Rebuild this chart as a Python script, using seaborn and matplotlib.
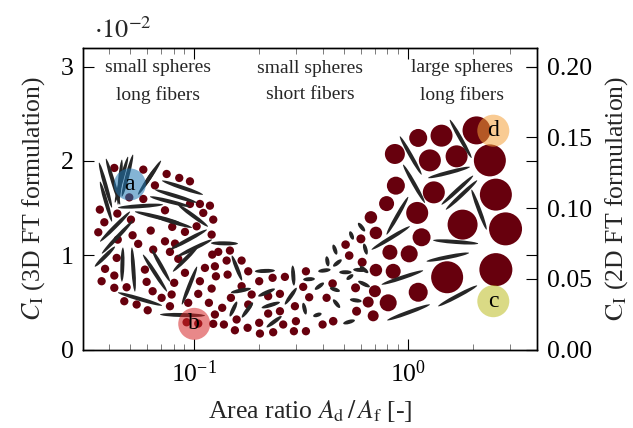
import numpy as np
import pandas as pd
import matplotlib
matplotlib.use("Agg")
import matplotlib.pyplot as plt
from matplotlib.collections import EllipseCollection
from matplotlib.ticker import FuncFormatter, FixedLocator, LogLocator, NullFormatter
import seaborn as sns

# ---- spheres: area ratio A_d/A_f, C_I (3D FT, in units of 1e-2), drawn diameter (px)
sphere_ratio = [
    0.0423, 0.0578, 0.0743, 0.0851, 0.0955, 0.0655, 0.0497, 0.0578, 0.0955, 0.1063,
    0.1184, 0.0362, 0.0437, 0.0730, 0.1102, 0.1227, 0.0506, 0.0380, 0.0789, 0.1026,
    0.0356, 0.0626, 0.0905, 0.1206, 0.0515, 0.0439, 0.0730, 0.0813, 0.0547, 0.0770,
    0.0643, 0.0434, 0.0842, 0.1214, 0.1295, 0.1468, 0.1665, 0.0383, 0.0588, 0.0423,
    0.0369, 0.0599, 0.0483, 0.0639, 0.0806, 0.0905, 0.1063, 0.1122, 0.1249, 0.1417,
    0.1432, 0.1263, 0.1206, 0.1044, 0.0784, 0.0704, 0.0423, 0.0471, 0.0538, 0.0606,
    0.0770, 0.0937, 0.1171, 0.1351, 0.1484, 0.1665, 0.1788, 0.1855, 0.1788, 0.1249,
    0.1227, 0.1376, 0.1578, 0.1549, 0.1776, 0.0921, 0.1044,
    0.2012, 0.2324, 0.2653, 0.3327, 0.2515, 0.3231, 0.3446, 0.4156, 0.4433, 0.5677,
    0.6095, 0.5099, 0.5301, 0.6012, 0.6695, 0.7066, 0.7066, 0.6990, 0.6503, 0.6862,
    0.5739, 0.4462, 0.3981, 0.2955, 0.2515, 0.2987, 0.2605, 0.2216, 0.2012, 0.2339,
    0.2028, 0.3327, 0.2923, 0.2216,
    1.114, 1.432, 2.087, 0.8667, 1.263, 1.684, 2.409, 0.8760, 1.318, 2.570,
    0.7927, 1.102, 1.796, 2.852, 1.155, 0.8215, 1.011, 0.8510, 1.521, 2.570,
    0.8065, 1.114,
]
sphere_ci = [
    1.925, 1.907, 1.861, 1.819, 1.783, 1.740, 1.613, 1.596, 1.543, 1.543,
    1.525, 1.483, 1.441, 1.476, 1.448, 1.377, 1.377, 1.349, 1.300, 1.306,
    1.243, 1.261, 1.247, 1.218, 1.211, 1.165, 1.147, 1.123, 1.120, 1.035,
    1.059, 0.971, 0.961, 1.006, 1.035, 1.049, 0.943, 0.855, 0.847, 0.784,
    0.724, 0.717, 0.660, 0.618, 0.707, 0.813, 0.724, 0.865, 0.882, 0.943,
    0.794, 0.776, 0.646, 0.590, 0.583, 0.548, 0.654, 0.512, 0.477, 0.416,
    0.459, 0.495, 0.495, 0.442, 0.548, 0.671, 0.829, 0.583, 0.477, 0.371,
    0.272, 0.265, 0.318, 0.204, 0.230, 0.289, 0.275,
    0.724, 0.760, 0.770, 0.829, 0.590, 0.664, 0.554, 0.548, 0.699, 0.654,
    0.925, 1.112, 0.996, 1.173, 1.401, 1.236, 0.842, 0.618, 0.503, 0.357,
    0.406, 0.300, 0.265, 0.459, 0.406, 0.300, 0.265, 0.381, 0.283, 0.183,
    0.169, 0.194, 0.194, 0.565,
    2.243, 2.267, 2.323, 2.073, 2.005, 2.048, 2.005, 1.737, 1.666, 1.642,
    1.547, 1.448, 1.324, 1.279, 1.190, 1.031, 1.014, 0.829, 0.766, 0.847,
    0.495, 0.607,
]
sphere_diam = (
    [8.3] * 77
    + [8.3, 8.3, 8.3, 8.3, 8.3, 8.3, 8.3, 8.3, 8.6, 9,
       9, 8.6, 8.6, 9, 12.5, 12.5, 12.5, 12, 11, 11,
       9, 8.6, 8.3, 8.3, 8.3, 8.3, 8.3, 8.3, 8.3, 8.3,
       8.3, 8.3, 8.3, 8.3]
    + [18, 22, 28, 20, 22, 22, 32, 18, 22, 32,
       15, 22, 30, 33, 18, 15, 17, 15, 32, 33,
       17, 19]
)

# ---- fibers: end points (area ratio, C_I in units of 1e-2)
fiber_x0 = [
    0.0359, 0.0387, 0.0363, 0.0459, 0.0490, 0.0517, 0.0699, 0.0662, 0.0707, 0.0655,
    0.0621, 0.0440, 0.0528, 0.0634, 0.0839, 0.0363, 0.0370, 0.0343, 0.0459, 0.0528,
    0.0576, 0.0634, 0.0440, 0.0692, 0.0876, 0.0795, 0.0770, 0.0830, 0.1197, 0.1500,
    0.1484, 0.1468, 0.1670,
    0.1921, 0.2883, 0.2653, 0.1990, 0.2065, 0.2179, 0.3230, 0.3230, 0.3664, 0.3796,
    0.4156, 0.4461, 0.4461, 0.4306, 0.4461, 0.4760, 0.5155, 0.5341, 0.5839, 0.6208,
    0.5533, 0.5839, 0.4969, 0.3597, 0.5341, 0.5948,
    0.9146, 0.9475, 1.566, 1.240, 1.432, 1.500, 1.978, 0.7926, 0.6744, 1.308,
    1.219, 0.7512, 1.381, 0.7978,
]
fiber_y0 = [
    1.981, 2.023, 1.780, 2.013, 2.044, 2.066, 2.002, 1.928, 1.790, 1.695,
    1.621, 1.504, 1.462, 1.419, 1.536, 1.144, 1.017, 0.879, 0.720, 0.614,
    1.006, 1.059, 0.604, 0.371, 0.477, 0.826, 1.059, 0.985, 1.128, 0.996,
    0.604, 0.350, 0.339,
    0.829, 0.890, 0.477, 0.565, 0.442, 0.236, 0.495, 0.742, 0.636, 0.829,
    0.988, 1.112, 0.882, 0.654, 0.530, 0.819, 0.742, 1.253, 1.342, 1.123,
    0.847, 0.724, 0.275, 0.353, 0.530, 0.882,
    2.260, 1.960, 2.436, 1.819, 1.536, 1.483, 1.695, 1.218, 1.059, 1.158,
    0.935, 0.689, 0.459, 0.310,
]
fiber_x1 = [
    0.0412, 0.0450, 0.0412, 0.0440, 0.0426, 0.0459, 0.0546, 0.0576, 0.1098, 0.1030,
    0.0955, 0.0714, 0.0858, 0.0976, 0.1159, 0.0501, 0.0517, 0.0426, 0.0464, 0.0511,
    0.0746, 0.0770, 0.0707, 0.1122, 0.1030, 0.1041, 0.1146, 0.1210, 0.1600, 0.1670,
    0.1841, 0.1583, 0.1881,
    0.2383, 0.2924, 0.3010, 0.2383, 0.2515, 0.2561, 0.3325, 0.3664, 0.4037, 0.4339,
    0.4228, 0.4629, 0.4885, 0.4796, 0.4796, 0.5440, 0.5533, 0.5533, 0.6276, 0.6412,
    0.6392, 0.6622, 0.5636, 0.3938, 0.6058, 0.6502,
    1.155, 1.197, 1.978, 1.942, 2.012, 2.101, 2.325, 1.000, 1.018, 2.124,
    1.924, 1.175, 2.101, 1.263,
]
fiber_y1 = [
    1.504, 1.536, 1.356, 1.536, 1.557, 1.621, 1.642, 1.716, 1.642, 1.557,
    1.515, 1.536, 1.345, 1.292, 1.303, 1.462, 1.367, 1.091, 1.081, 1.081,
    0.614, 0.720, 0.466, 0.360, 0.879, 1.091, 1.271, 1.165, 1.123, 0.731,
    0.646, 0.508, 0.498,
    0.837, 0.678, 0.654, 0.643, 0.501, 0.353, 0.371, 0.749, 0.707, 0.847,
    0.882, 1.006, 0.953, 0.618, 0.442, 0.819, 0.794, 1.165, 1.253, 1.006,
    0.840, 0.664, 0.310, 0.381, 0.512, 0.813,
    1.854, 1.554, 2.031, 1.935, 1.843, 1.793, 1.271, 1.618, 1.306, 1.123,
    1.024, 0.837, 0.678, 0.477,
]

# ---- highlighted micro-structures
sample_labels = ["a", "b", "c", "d"]
sample_ratio = [0.050, 0.100, 2.50, 2.50]
sample_ci = [1.75, 0.272, 0.512, 2.32]
sample_colors = ["#1f77b4", "#d62728", "#bcbd22", "#f5a13a"]

regime_ratio = [0.068, 0.347, 1.78]
regime_text = ["small spheres\nlong fibers", "small spheres\nshort fibers",
               "large spheres\nlong fibers"]

SPHERE_COLOR = "#67000d"
FIBER_COLOR = "#262626"
DPI = 100
FS = 18.5

sns.set_theme(style="ticks")
plt.rcParams["font.family"] = ["Liberation Serif", "DejaVu Serif"]
plt.rcParams["mathtext.fontset"] = "stix"

fig = plt.figure(figsize=(6.33, 4.28), dpi=DPI)
ax = fig.add_axes([0.1316, 0.1834, 0.8483 - 0.1316, 0.8886 - 0.1834])
ax.set_xscale("log")
ax.set_xlim(0.0303, 4.0)
ylim_top = 0.032
ax.set_ylim(0, ylim_top)

spheres = pd.DataFrame({
    "ratio": sphere_ratio,
    "ci": np.array(sphere_ci) * 1e-2,
})
sphere_s = (np.array(sphere_diam) * 72.0 / DPI) ** 2
sns.scatterplot(data=spheres, x="ratio", y="ci", s=sphere_s, color=SPHERE_COLOR,
                linewidth=0, edgecolor="none", legend=False, ax=ax, zorder=2)
ax.set_xlim(0.0303, 4.0)
ax.set_ylim(0, ylim_top)

# fibers as slender ellipses between their end points
tr = ax.transData
p0 = tr.transform(np.column_stack([fiber_x0, np.array(fiber_y0) * 1e-2]))
p1 = tr.transform(np.column_stack([fiber_x1, np.array(fiber_y1) * 1e-2]))
mid = tr.inverted().transform((p0 + p1) / 2.0)
dvec = p1 - p0
length_pt = np.hypot(dvec[:, 0], dvec[:, 1]) * 72.0 / DPI
angle = np.degrees(np.arctan2(dvec[:, 1], dvec[:, 0]))
fibers = EllipseCollection(length_pt, np.full(len(length_pt), 2.9), angle,
                           units="points", offsets=mid, offset_transform=ax.transData,
                           facecolors=FIBER_COLOR, edgecolors="none", zorder=3)
ax.add_collection(fibers, autolim=False)

samples = pd.DataFrame({"ratio": sample_ratio, "ci": np.array(sample_ci) * 1e-2,
                        "label": sample_labels})
sns.scatterplot(data=samples, x="ratio", y="ci", hue="label",
                palette=dict(zip(sample_labels, sample_colors)),
                s=(32 * 72.0 / DPI) ** 2, alpha=0.55, linewidth=0, legend=False,
                ax=ax, zorder=4)
for lab, xr, yc in zip(sample_labels, sample_ratio, sample_ci):
    ax.text(xr, yc * 1e-2, lab, ha="center", va="center", fontsize=17,
            color="black", zorder=5)

for xr, txt in zip(regime_ratio, regime_text):
    ax.text(xr, 0.0284, txt, ha="center", va="center", fontsize=14,
            linespacing=1.7, zorder=5)

ax.set_xlim(0.0303, 4.0)
ax.set_ylim(0, ylim_top)

# left axis (3D formulation)
ax.yaxis.set_major_locator(FixedLocator([0, 0.01, 0.02, 0.03]))
ax.yaxis.set_major_formatter(FuncFormatter(lambda v, p: f"{v * 100:g}"))
ax.xaxis.set_major_locator(LogLocator(base=10))
ax.xaxis.set_minor_locator(LogLocator(base=10, subs=np.arange(2, 10)))
ax.xaxis.set_minor_formatter(NullFormatter())
ax.text(0.024, 1.058, r"$\cdot 10^{-2}$", transform=ax.transAxes, fontsize=19,
        ha="left", va="center")
ax.set_xlabel(r"Area ratio $A_\mathrm{d}\,/\,A_\mathrm{f}$ [-]", fontsize=FS, labelpad=8)
ax.set_ylabel(r"$C_\mathrm{I}$ (3D FT formulation)", fontsize=FS, labelpad=10)

# right axis (2D formulation)
ax2 = ax.twinx()
ax2.set_ylim(0, ylim_top * 20.0 / 3.0)
ax2.yaxis.set_major_locator(FixedLocator([0, 0.05, 0.10, 0.15, 0.20]))
ax2.yaxis.set_major_formatter(FuncFormatter(lambda v, p: f"{v:.2f}"))
ax2.set_ylabel(r"$\mathrm{C}_\mathrm{I}$ (2D FT formulation)", fontsize=FS, labelpad=8)
ax2.tick_params(axis="y", direction="in", length=8, width=0.8, labelsize=FS, pad=7,
                left=False, right=True, colors="black")

ax.tick_params(axis="both", which="major", direction="in", length=8, width=0.8,
               labelsize=FS, top=True, right=True, colors="black")
ax.tick_params(axis="x", which="minor", direction="in", length=4.5, width=0.6,
               top=True, bottom=True, colors="#666666")
ax.tick_params(axis="x", which="major", pad=8)
ax.tick_params(axis="y", which="major", pad=7)

for a in (ax, ax2):
    for sp in a.spines.values():
        sp.set_visible(True)
        sp.set_linewidth(1.0)
        sp.set_color("black")

fig.savefig("out.png", dpi=DPI)
